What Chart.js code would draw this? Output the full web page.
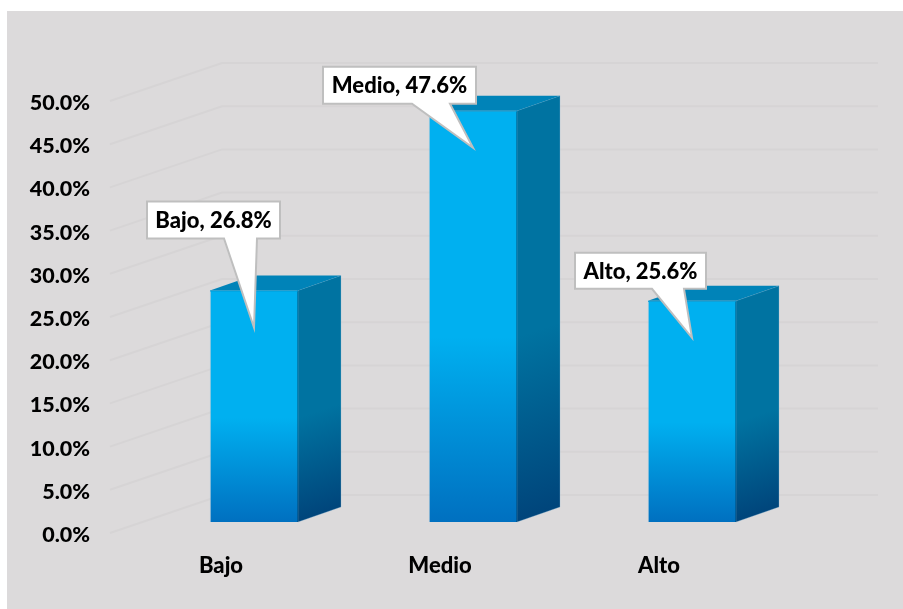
<!DOCTYPE html>
<html>
<head>
<meta charset="utf-8">
<style>
  body { margin: 0; background: #fff; }
  canvas { display: block; }
</style>
<script src="https://cdn.jsdelivr.net/npm/chart.js@4"></script>
</head>
<body>
<canvas id="myChart" width="903" height="609"></canvas>
<script>
const categories = ['Bajo', 'Medio', 'Alto']
const values = [26.8, 47.6, 25.6]
const axisMin = 0
const axisMax = 50
const axisStep = 5

// callout box placement, relative to the bar top centre
const calloutBoxes = [
    { dx: -107, dy: -89, w: 133, h: 37, tailA: -30, tailB: 3 },
    { dx: -150, dy: -44, w: 153, h: 37, tailA: -61, tailB: -23 },
    { dx: -117, dy: -48, w: 131, h: 36, tailA: -40, tailB: -8 }
]

const fontName = 'Lato, Carlito, Calibri, sans-serif'
const fontWeight = 900
const depthX = 43
const depthY = -15
const edgeColor = 'rgba(140, 185, 215, 0.3)'

// the wall lines start in front of the bars and bend back at the corner
const wallPlugin = {
    id: 'wall',
    beforeDraw(chart) {
        const c = chart.ctx
        c.save()
        c.fillStyle = '#dcdadb'
        c.fillRect(7, 11, 896, 598)
        c.restore()
    },
    beforeDatasetsDraw(chart) {
        const c = chart.ctx
        const yScale = chart.scales.y
        c.save()
        c.strokeStyle = '#d6d4d5'
        c.lineWidth = 2
        yScale.ticks.forEach(t => {
            const y = yScale.getPixelForValue(t.value)
            c.beginPath()
            c.moveTo(110, y + 11)
            c.lineTo(222, y - 27)
            c.lineTo(878, y - 27)
            c.stroke()
        })
        c.restore()
    }
}

// side and top faces of each bar
const depthPlugin = {
    id: 'depth',
    afterDatasetsDraw(chart) {
        const c = chart.ctx
        chart.getDatasetMeta(0).data.forEach(bar => {
            const right = bar.x + bar.width / 2
            const left = bar.x - bar.width / 2
            const h = bar.base - bar.y

            // the shade runs along the skew of the face
            const side = c.createLinearGradient(right, bar.y, right + 0.305 * h, bar.y + 0.895 * h)
            side.addColorStop(0, '#0073a1')
            side.addColorStop(0.55, '#0073a1')
            side.addColorStop(1, '#00457b')
            c.fillStyle = side
            c.strokeStyle = edgeColor
            c.lineWidth = 1
            c.beginPath()
            c.moveTo(right, bar.y)
            c.lineTo(right + depthX, bar.y + depthY)
            c.lineTo(right + depthX, bar.base + depthY)
            c.lineTo(right, bar.base)
            c.closePath()
            c.fill()
            c.stroke()

            c.fillStyle = '#0083b8'
            c.beginPath()
            c.moveTo(left, bar.y)
            c.lineTo(left + depthX, bar.y + depthY)
            c.lineTo(right + depthX, bar.y + depthY)
            c.lineTo(right, bar.y)
            c.closePath()
            c.fill()

            // darker seam where the front meets the side
            const seam = c.createLinearGradient(0, bar.y, 0, bar.base)
            seam.addColorStop(0, '#0080b4')
            seam.addColorStop(0.55, '#0080b4')
            seam.addColorStop(1, '#005a98')
            c.strokeStyle = seam
            c.beginPath()
            c.moveTo(right - 0.5, bar.y)
            c.lineTo(right - 0.5, bar.base)
            c.stroke()
            c.strokeStyle = '#0098d4'
            c.beginPath()
            c.moveTo(left, bar.y + 0.5)
            c.lineTo(right, bar.y + 0.5)
            c.stroke()
        })
    }
}

const calloutPlugin = {
    id: 'callout',
    afterDraw(chart) {
        const c = chart.ctx
        chart.getDatasetMeta(0).data.forEach((bar, i) => {
            const box = calloutBoxes[i]
            const tipX = bar.x
            const tipY = bar.y + 37
            const x = bar.x + box.dx
            const y = bar.y + box.dy
            c.save()
            c.fillStyle = '#fff'
            c.strokeStyle = '#bfbfbf'
            c.lineWidth = 2
            c.lineJoin = 'miter'
            c.beginPath()
            c.moveTo(x, y)
            c.lineTo(x + box.w, y)
            c.lineTo(x + box.w, y + box.h)
            c.lineTo(tipX + box.tailB, y + box.h)
            c.lineTo(tipX, tipY)
            c.lineTo(tipX + box.tailA, y + box.h)
            c.lineTo(x, y + box.h)
            c.closePath()
            c.fill()
            c.stroke()
            c.fillStyle = '#000'
            c.font = fontWeight + ' 22px ' + fontName
            c.textAlign = 'center'
            c.textBaseline = 'middle'
            c.fillText(categories[i] + ', ' + values[i].toFixed(1) + '%', x + box.w / 2, y + box.h / 2 + 1)
            c.restore()
        })
    }
}

function BuildBars() {
    const ctx = document.getElementById('myChart')
    return new Chart(ctx, {
        type: 'bar',
        data: {
            labels: categories,
            datasets: [{
                data: values,
                barThickness: 88,
                borderWidth: 1,
                borderColor: edgeColor,
                backgroundColor(context) {
                    const area = context.chart.chartArea
                    if (!area) return '#00b0f0'
                    const yScale = context.chart.scales.y
                    const top = yScale.getPixelForValue(values[context.dataIndex])
                    const base = yScale.getPixelForValue(0)
                    const g = context.chart.ctx.createLinearGradient(0, top, 0, base)
                    g.addColorStop(0, '#00b0f0')
                    g.addColorStop(0.55, '#00b0f0')
                    g.addColorStop(1, '#0070c0')
                    return g
                }
            }]
        },
        options: {
            responsive: false,
            animation: false,
            layout: { padding: { top: 90, right: 101.5, left: 0, bottom: 0 } },
            plugins: {
                legend: { display: false },
                tooltip: { enabled: false }
            },
            scales: {
                x: {
                    grid: { display: false, drawTicks: false },
                    border: { display: false },
                    ticks: {
                        color: '#000',
                        font: { family: fontName, size: 22, weight: fontWeight },
                        labelOffset: -33,
                        padding: 31,
                        maxRotation: 0
                    },
                    afterFit(scale) { scale.height = 87 }
                },
                y: {
                    min: axisMin,
                    max: axisMax,
                    grid: { display: false, drawTicks: false },
                    border: { display: false },
                    ticks: {
                        stepSize: axisStep,
                        autoSkip: false,
                        color: '#000',
                        font: { family: fontName, size: 21.5, weight: fontWeight },
                        labelOffset: 13,
                        padding: 54.5,
                        callback: value => value.toFixed(1) + '%'
                    },
                    afterFit(scale) { scale.width = 144.5 }
                }
            }
        },
        plugins: [wallPlugin, depthPlugin, calloutPlugin]
    })
}

BuildBars()
</script>
</body>
</html>
